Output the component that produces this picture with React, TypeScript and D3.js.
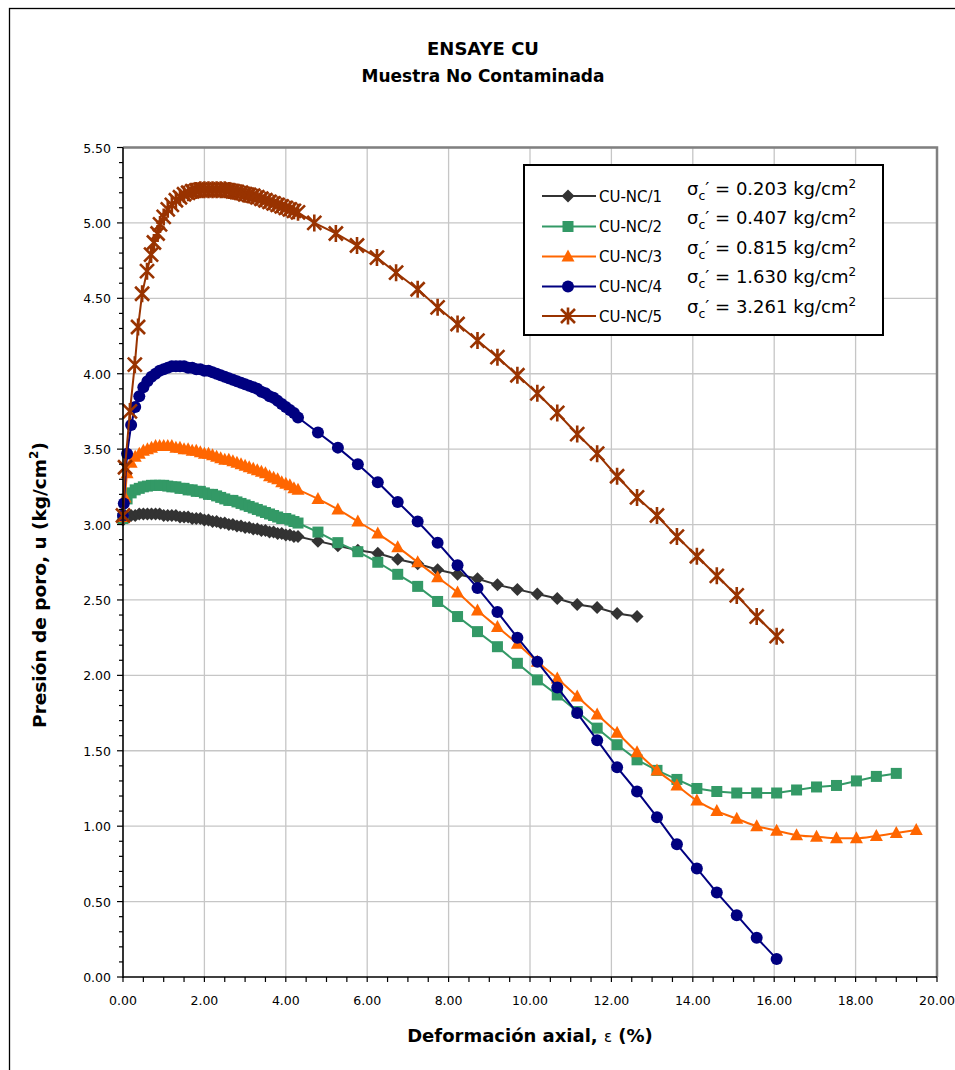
import React from 'react';
import * as d3 from 'd3';

// ---------- axis ticks ----------
const xTickValues = [0, 2, 4, 6, 8, 10, 12, 14, 16, 18, 20];
const yTickValues = [0, 0.5, 1, 1.5, 2, 2.5, 3, 3.5, 4, 4.5, 5, 5.5];

// ---------- strain (x) values ----------
const strainDense = [
  0.1, 0.2, 0.3, 0.4, 0.5, 0.6, 0.7, 0.8, 0.9, 1.0,
  1.1, 1.2, 1.3, 1.4, 1.5, 1.6, 1.7, 1.8, 1.9, 2.0,
  2.1, 2.2, 2.3, 2.4, 2.5, 2.6, 2.7, 2.8, 2.9, 3.0,
  3.1, 3.2, 3.3, 3.4, 3.5, 3.6, 3.7, 3.8, 3.9, 4.0,
  4.1, 4.2, 4.3,
];
const strainSparse = [
  4.79, 5.28, 5.77, 6.26, 6.75, 7.24, 7.73, 8.22, 8.71, 9.2,
  9.69, 10.18, 10.67, 11.16, 11.65, 12.14, 12.63, 13.12, 13.61, 14.1,
  14.59, 15.08, 15.57, 16.06, 16.55, 17.04, 17.53, 18.02, 18.51, 19.0,
  19.49,
];

// ---------- CU-NC/1 ----------
const s1Start = [0];
const s1Y = [
  3.03,
  3.05, 3.06, 3.06, 3.07, 3.07, 3.07, 3.07, 3.07, 3.07, 3.06,
  3.06, 3.06, 3.06, 3.05, 3.05, 3.05, 3.04, 3.04, 3.04, 3.03,
  3.03, 3.02, 3.02, 3.01, 3.01, 3.0, 3.0, 2.99, 2.99, 2.98,
  2.98, 2.97, 2.97, 2.96, 2.96, 2.95, 2.95, 2.94, 2.94, 2.93,
  2.93, 2.92, 2.92,
  2.89, 2.86, 2.83, 2.81, 2.77, 2.74, 2.7, 2.67, 2.64, 2.6,
  2.57, 2.54, 2.51, 2.47, 2.45, 2.41, 2.39,
];

// ---------- CU-NC/2 ----------
const s2Start = [0];
const s2Y = [
  3.04,
  3.17, 3.21, 3.23, 3.24, 3.25, 3.255, 3.26, 3.26, 3.26, 3.26,
  3.255, 3.25, 3.25, 3.24, 3.24, 3.23, 3.23, 3.22, 3.22, 3.21,
  3.2, 3.2, 3.19, 3.18, 3.17, 3.16, 3.16, 3.15, 3.14, 3.13,
  3.12, 3.11, 3.1, 3.09, 3.08, 3.07, 3.06, 3.05, 3.04, 3.04,
  3.03, 3.02, 3.01,
  2.95, 2.88, 2.82, 2.75, 2.67, 2.59, 2.49, 2.39, 2.29, 2.19,
  2.08, 1.97, 1.87, 1.76, 1.65, 1.54, 1.44, 1.37, 1.31, 1.25,
  1.23, 1.22, 1.22, 1.22, 1.24, 1.26, 1.27, 1.3, 1.33, 1.35,
];

// ---------- CU-NC/3 ----------
const s3Start = [0, 0.05];
const s3Y = [
  3.05, 3.18,
  3.34, 3.41, 3.45, 3.47, 3.49, 3.5, 3.51, 3.52, 3.52, 3.52,
  3.52, 3.52, 3.51, 3.51, 3.5, 3.5, 3.49, 3.49, 3.48, 3.47,
  3.47, 3.46, 3.45, 3.44, 3.43, 3.43, 3.42, 3.41, 3.4, 3.39,
  3.38, 3.37, 3.36, 3.35, 3.34, 3.32, 3.31, 3.3, 3.28, 3.27,
  3.26, 3.24, 3.23,
  3.17, 3.1, 3.02, 2.94, 2.85, 2.75, 2.65, 2.55, 2.43, 2.32,
  2.21, 2.09, 1.98, 1.86, 1.74, 1.62, 1.49, 1.37, 1.27, 1.17,
  1.1, 1.05, 1.0, 0.97, 0.94, 0.93, 0.92, 0.92, 0.935, 0.955,
  0.975,
];

// ---------- CU-NC/4 ----------
const s4Start = [0, 0.02];
const s4Y = [
  3.06, 3.14,
  3.47, 3.66, 3.78, 3.85, 3.91, 3.95, 3.98, 4.0, 4.02, 4.03,
  4.04, 4.05, 4.05, 4.05, 4.05, 4.04, 4.04, 4.03, 4.03, 4.02,
  4.02, 4.01, 4.0, 3.99, 3.98, 3.97, 3.96, 3.95, 3.94, 3.93,
  3.92, 3.91, 3.9, 3.88, 3.87, 3.85, 3.84, 3.82, 3.8, 3.78,
  3.76, 3.74, 3.71,
  3.61, 3.51, 3.4, 3.28, 3.15, 3.02, 2.88, 2.73, 2.58, 2.42,
  2.25, 2.09, 1.92, 1.75, 1.57, 1.39, 1.23, 1.06, 0.88, 0.72,
  0.56, 0.41, 0.26, 0.12,
];

// ---------- CU-NC/5 ----------
const s5X = [
  0, 0.05, 0.17, 0.29, 0.37, 0.47, 0.59, 0.69, 0.76, 0.85, 0.91,
  1.0, 1.1, 1.2, 1.3, 1.4, 1.5, 1.6, 1.7, 1.8, 1.9,
  2.0, 2.1, 2.2, 2.3, 2.4, 2.5, 2.6, 2.7, 2.8, 2.9,
  3.0, 3.1, 3.2, 3.3, 3.4, 3.5, 3.6, 3.7, 3.8, 3.9,
  4.0, 4.1, 4.2, 4.3,
  4.7, 5.23, 5.75, 6.24, 6.71, 7.24, 7.73, 8.22, 8.71, 9.2,
  9.69, 10.18, 10.67, 11.16, 11.65, 12.14, 12.63, 13.12, 13.61, 14.1,
  14.59, 15.08, 15.57, 16.06,
];
const s5Y = [
  3.06, 3.38, 3.75, 4.06, 4.31, 4.53, 4.68, 4.79, 4.87, 4.93, 4.99,
  5.04, 5.09, 5.12, 5.15, 5.17, 5.19, 5.2, 5.21, 5.215, 5.22,
  5.22, 5.22, 5.22, 5.22, 5.22, 5.22, 5.215, 5.21, 5.205, 5.2,
  5.19, 5.185, 5.18, 5.17, 5.16, 5.15, 5.14, 5.13, 5.12, 5.11,
  5.1, 5.09, 5.08, 5.07,
  5.0, 4.93, 4.85, 4.77, 4.67, 4.56, 4.44, 4.33, 4.22, 4.11,
  3.99, 3.87, 3.74, 3.6, 3.47, 3.32, 3.18, 3.06, 2.92, 2.79,
  2.66, 2.53, 2.39, 2.26,
];

const seriesNames = ['CU-NC/1', 'CU-NC/2', 'CU-NC/3', 'CU-NC/4', 'CU-NC/5'];
const sigmaValues = ['0.203', '0.407', '0.815', '1.630', '3.261'];
const seriesColors = ['#333333', '#339966', '#FF6600', '#000080', '#993300'];
const seriesMarkers = ['diamond', 'square', 'triangle', 'circle', 'star'];

function buildX(start: number[], n: number): number[] {
  const all = [...start, ...strainDense, ...strainSparse];
  return all.slice(0, n);
}

const seriesData: [number, number][][] = [
  d3.zip(buildX(s1Start, s1Y.length), s1Y) as [number, number][],
  d3.zip(buildX(s2Start, s2Y.length), s2Y) as [number, number][],
  d3.zip(buildX(s3Start, s3Y.length), s3Y) as [number, number][],
  d3.zip(buildX(s4Start, s4Y.length), s4Y) as [number, number][],
  d3.zip(s5X, s5Y) as [number, number][],
];

const FONT = "'DejaVu Sans', Verdana, sans-serif";

function Marker({ type, color, cx, cy }: { type: string; color: string; cx: number; cy: number }) {
  const t = `translate(${cx},${cy})`;
  if (type === 'diamond') return <path transform={t} d="M0,-6.5L6.5,0L0,6.5L-6.5,0Z" fill={color} />;
  if (type === 'square') return <rect x={cx - 5.5} y={cy - 5.5} width={11} height={11} fill={color} />;
  if (type === 'triangle') return <path transform={t} d="M0,-7L6.5,5L-6.5,5Z" fill={color} />;
  if (type === 'circle') return <circle cx={cx} cy={cy} r={6} fill={color} />;
  return (
    <path
      transform={t}
      d="M-7,-7L7,7M-7,7L7,-7M0,-8.5L0,8.5"
      stroke={color}
      strokeWidth={2.6}
      fill="none"
    />
  );
}

export default function App() {
  const W = 955;
  const H = 1070;
  const left = 123;
  const right = 937;
  const top = 147.5;
  const bottom = 977;

  const x = d3.scaleLinear().domain([0, 20]).range([left, right]);
  const y = d3.scaleLinear().domain([0, 5.5]).range([bottom, top]);

  const xMinor = d3.range(0, 20.001, 0.5);
  const yMinor = d3.range(0, 5.5001, 0.1);

  const line = d3
    .line<[number, number]>()
    .x((d) => x(d[0]))
    .y((d) => y(d[1]));
  const smoothLine = d3
    .line<[number, number]>()
    .x((d) => x(d[0]))
    .y((d) => y(d[1]))
    .curve(d3.curveMonotoneX);

  const legendX = 524;
  const legendY = 165;
  const legendRowY = [196, 226.5, 256.5, 286.5, 316];
  const sigmaRowY = [195, 224, 254, 283, 313];

  return (
    <svg
      width={W}
      height={H}
      style={{ position: 'absolute', left: 0, top: 0, background: '#fff' }}
      fontFamily={FONT}
    >
      {/* outer frame */}
      <rect x={9.5} y={8.5} width={1000} height={1100} fill="#fff" stroke="#000" strokeWidth={1.3} />

      {/* title */}
      <text x={483} y={55} textAnchor="middle" fontWeight="bold" fontSize={18}>
        ENSAYE CU
      </text>
      <text x={483} y={82} textAnchor="middle" fontWeight="bold" fontSize={17}>
        Muestra No Contaminada
      </text>

      {/* grid */}
      {xTickValues.slice(1).map((v) => (
        <line key={'gx' + v} x1={x(v)} x2={x(v)} y1={top} y2={bottom} stroke="#C6C6C6" strokeWidth={1.3} />
      ))}
      {yTickValues.slice(1).map((v) => (
        <line key={'gy' + v} x1={left} x2={right} y1={y(v)} y2={y(v)} stroke="#C6C6C6" strokeWidth={1.3} />
      ))}

      {/* plot border top/right */}
      <path d={`M${left},${top}H${right}V${bottom}`} fill="none" stroke="#808080" strokeWidth={2.5} />

      {/* series */}
      {seriesData.map((data, i) => (
        <g key={'s' + i}>
          <path
            d={(i === 2 ? smoothLine : line)(data) || ''}
            fill="none"
            stroke={seriesColors[i]}
            strokeWidth={2}
          />
          {data.map((d, j) => (
            <Marker key={j} type={seriesMarkers[i]} color={seriesColors[i]} cx={x(d[0])} cy={y(d[1])} />
          ))}
        </g>
      ))}

      {/* axes */}
      <line x1={left} x2={left} y1={top} y2={bottom + 1} stroke="#000" strokeWidth={1.6} />
      <line x1={left} x2={right} y1={bottom} y2={bottom} stroke="#000" strokeWidth={1.6} />
      {yMinor.map((v, i) => (
        <line key={'ym' + i} x1={left - (i % 5 === 0 ? 6 : 4)} x2={left} y1={y(v)} y2={y(v)} stroke="#000" strokeWidth={1.2} />
      ))}
      {xMinor.map((v, i) => (
        <line key={'xm' + i} x1={x(v)} x2={x(v)} y1={bottom} y2={bottom + 5} stroke="#000" strokeWidth={1.2} />
      ))}
      {yTickValues.map((v) => (
        <text key={'yl' + v} x={111} y={y(v) + 5} textAnchor="end" fontSize={12.5}>
          {v.toFixed(2)}
        </text>
      ))}
      {xTickValues.map((v) => (
        <text key={'xl' + v} x={x(v)} y={1005} textAnchor="middle" fontSize={12.5}>
          {v.toFixed(2)}
        </text>
      ))}

      {/* axis titles */}
      <text x={530} y={1042} textAnchor="middle" fontWeight="bold" fontSize={18}>
        Deformación axial,{' '}
        <tspan fontWeight="normal" fontSize={15}>ε</tspan> (%)
      </text>
      <text
        transform={`translate(46,585) rotate(-90)`}
        textAnchor="middle"
        fontWeight="bold"
        fontSize={18.5}
      >
        Presión de poro, u (kg/cm<tspan dy={-8} fontSize={12}>2</tspan>
        <tspan dy={8}>)</tspan>
      </text>

      {/* legend */}
      <rect x={legendX} y={legendY} width={359} height={170} fill="#fff" stroke="#000" strokeWidth={2} />
      {seriesNames.map((name, i) => (
        <g key={'lg' + i}>
          <line x1={542} x2={596} y1={legendRowY[i]} y2={legendRowY[i]} stroke={seriesColors[i]} strokeWidth={2} />
          <Marker type={seriesMarkers[i]} color={seriesColors[i]} cx={568} cy={legendRowY[i]} />
          <text x={599} y={legendRowY[i] + 5.5} fontSize={15}>
            {name}
          </text>
          <text x={687} y={sigmaRowY[i]} fontSize={18}>
            σ<tspan dy={5} fontSize={12.5}>c</tspan>
            <tspan dy={-5}>′ = {sigmaValues[i]} kg/cm</tspan>
            <tspan dy={-7} fontSize={12}>2</tspan>
          </text>
        </g>
      ))}
    </svg>
  );
}
